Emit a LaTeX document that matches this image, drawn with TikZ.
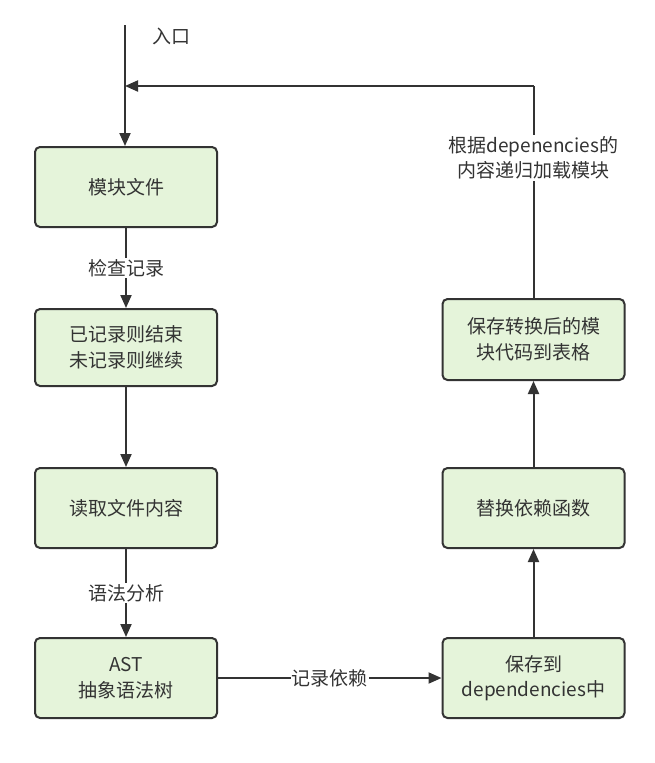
\documentclass[tikz,border=0pt]{standalone}
\usepackage{fontspec}
\setmainfont{Noto Sans CJK SC}
\usetikzlibrary{arrows.meta}
\definecolor{boxfill}{HTML}{E5F4DA}
\definecolor{ink}{HTML}{333333}
\begin{document}
\begin{tikzpicture}[x=1pt,y=-1pt,
  font=\fontsize{19}{25.5}\selectfont,
  procbox/.style={draw=ink, fill=boxfill, line width=2pt, rounded corners=5pt,
    text=ink, align=center, inner sep=0pt, minimum width=182pt},
  flow/.style={draw=ink, line width=2pt, -{Triangle[length=13pt,width=11pt]}},
  plain/.style={draw=ink, line width=2pt},
  lbl/.style={fill=white, text=ink, align=center, inner sep=1pt}]
\useasboundingbox (0,0) rectangle (655,763);

% left column
\node[procbox, minimum height=80pt] (file)  at (126,187)   {模块文件};
\node[procbox, minimum height=77pt] (check) at (126,347.5) {已记录则结束\\未记录则继续};
\node[procbox, minimum height=80pt] (read)  at (126,508)   {读取文件内容};
\node[procbox, minimum height=80pt] (ast)   at (126,678)   {AST\\抽象语法树};

% right column
\node[procbox, minimum height=80pt] (deps)  at (533.5,678)   {保存到\\dependencies中};
\node[procbox, minimum height=80pt] (repl)  at (533.5,508)   {替换依赖函数};
\node[procbox, minimum height=81pt] (save)  at (533.5,339.5) {保存转换后的模\\块代码到表格};

% entry and return path
\coordinate (entry) at (125,25);
\coordinate (merge) at (125,86);
\coordinate (corner) at (533.5,86);
\draw[flow] (entry) -- (file.north -| entry);
\node[text=ink] (entrylbl) at (171,36) {入口};
\draw[plain] (save.north) -- (corner);
\draw[flow] (corner) -- (merge);
\node[lbl] (recur) at (533.5,158) {根据depenencies的\\内容递归加载模块};

% main flow
\draw[flow] (file) -- node[lbl] {检查记录} (check);
\draw[flow] (check) -- (read);
\draw[flow] (read) -- node[lbl] {语法分析} (ast);
\draw[flow] (ast) -- node[lbl] {记录依赖} (deps);
\draw[flow] (deps) -- (repl);
\draw[flow] (repl) -- (save);
\end{tikzpicture}
\end{document}
